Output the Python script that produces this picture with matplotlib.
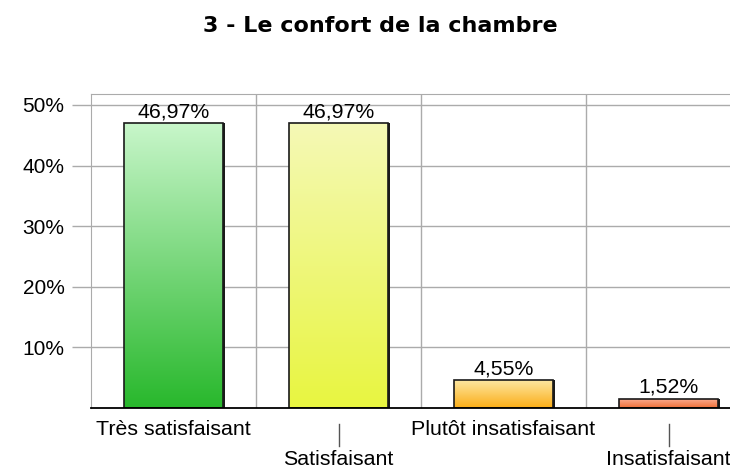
import matplotlib
matplotlib.use("Agg")
import matplotlib.pyplot as plt
import numpy as np
from matplotlib.colors import LinearSegmentedColormap
from matplotlib.patches import Rectangle

# data
categories = ["Très satisfaisant", "Satisfaisant", "Plutôt insatisfaisant", "Insatisfaisant"]
values = [46.97, 46.97, 4.55, 1.52]
value_labels = ["46,97%", "46,97%", "4,55%", "1,52%"]
yticks = [10, 20, 30, 40, 50]
ytick_labels = ["10%", "20%", "30%", "40%", "50%"]
top_colors = ["#c8f6ca", "#f5f9b6", "#fde6a2", "#fbb096"]
bottom_colors = ["#28b82c", "#e8f540", "#fbae16", "#ef6e36"]

plt.rcParams["font.family"] = ["Liberation Sans", "DejaVu Sans"]

fig = plt.figure(figsize=(7.3, 4.68), dpi=100)
ax = fig.add_axes([91 / 730, 1 - 408 / 468, 660 / 730, 314 / 468])

grid_c = "#ababab"
for s in ["left", "top", "right"]:
    ax.spines[s].set_color(grid_c)
ax.spines["bottom"].set_color("black")
ax.spines["bottom"].set_linewidth(1.3)
ax.spines["bottom"].set_zorder(5)

# horizontal grid + long ticks to the left
ax.set_yticks(yticks)
ax.set_yticklabels(ytick_labels, fontsize=15)
ax.tick_params(axis="y", length=14, color=grid_c, pad=5, width=1)
for y in yticks:
    ax.axhline(y, color=grid_c, lw=1, zorder=0)
for i in range(len(categories) - 1):
    ax.axvline(i + 0.5, color=grid_c, lw=1, zorder=0)

# bars with vertical gradient and dark right shadow
width = 0.6
px = 1 / 165.0
for i, v in enumerate(values):
    x0 = i - width / 2
    ax.add_patch(Rectangle((x0 + 2 * px, 0), width, v, facecolor="#1a1a1a",
                           edgecolor="none", zorder=2))
    ax.add_patch(Rectangle((x0, 0), width, v, facecolor="none", edgecolor="#1a1a1a",
                           lw=1.2, zorder=4))
    cmap = LinearSegmentedColormap.from_list("g", [bottom_colors[i], top_colors[i]])
    grad = np.linspace(0, 1, 256).reshape(-1, 1)
    im = ax.imshow(grad, cmap=cmap, origin="lower", aspect="auto",
                   extent=(x0, x0 + width, 0, v), zorder=3)
    im.set_clip_path(Rectangle((x0, 0), width, v, transform=ax.transData))
    ax.text(i, v + 0.3, value_labels[i], ha="center", va="bottom", fontsize=15.3, zorder=6)

ax.set_xlim(-0.5, len(categories) - 0.5)
ax.set_ylim(0, 51.8)

# category labels, staggered
ax.set_xticks([])
for i, c in enumerate(categories):
    if i % 2 == 0:
        ax.annotate(c, xy=(i, 0), xytext=(0, -19.4), textcoords="offset points",
                    ha="center", va="baseline", fontsize=15.4, annotation_clip=False)
    else:
        ax.plot([i, i], [-2.64, -6.27], color="#555555", lw=1, clip_on=False)
        ax.annotate(c, xy=(i, 0), xytext=(0, -41), textcoords="offset points",
                    ha="center", va="baseline", fontsize=15.4, annotation_clip=False)

fig.text(380 / 730, 1 - 32 / 468, "3 - Le confort de la chambre", ha="center",
         va="baseline", fontsize=16, fontweight="bold", family="DejaVu Sans")

fig.savefig("out.png", dpi=100, facecolor="white")
